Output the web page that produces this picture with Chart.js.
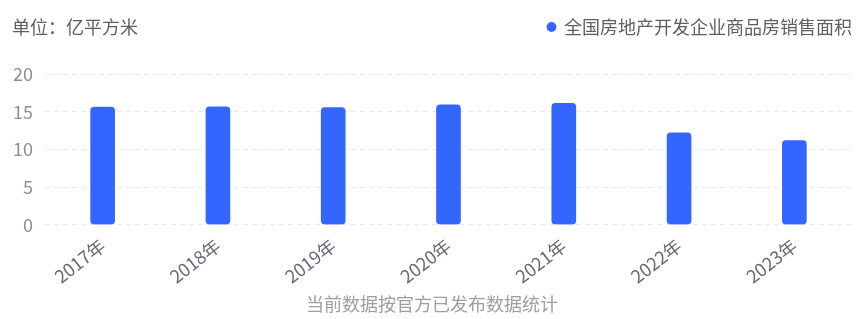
<!DOCTYPE html>
<html>
<head>
<meta charset="utf-8">
<script src="https://cdn.jsdelivr.net/npm/chart.js@4/dist/chart.umd.min.js"></script>
<style>
  html, body { margin: 0; padding: 0; background: #ffffff; }
  #wrap { width: 865px; height: 319px; position: relative; }
</style>
</head>
<body>
<div id="wrap"><canvas id="c"></canvas></div>
<script>
// 全国房地产开发企业商品房销售面积（亿平方米）
const years = ['2017年', '2018年', '2019年', '2020年', '2021年', '2022年', '2023年'];
const salesArea = [15.6, 15.65, 15.55, 15.9, 16.1, 12.2, 11.15];
const yTicks = [0, 5, 10, 15, 20];
const seriesName = '全国房地产开发企业商品房销售面积';
const unitText = '单位：亿平方米';
const footText = '当前数据按官方已发布数据统计';

const FONT = '"Noto Sans CJK SC", "Noto Sans", sans-serif';

// unit caption drawn on the legend row, left side; legend gets extra room below
const unitLabel = {
  id: 'unitLabel',
  beforeInit(chart) {
    const lg = chart.legend;
    if (lg) {
      const fit = lg.fit;
      lg.fit = function () {
        fit.call(this);
        this.height += 28;
      };
    }
  },
  afterDraw(chart) {
    const lg = chart.legend;
    const y = lg.legendHitBoxes.length ? lg.legendHitBoxes[0].top + lg.legendHitBoxes[0].height / 2 : 26;
    const ctx = chart.ctx;
    ctx.save();
    ctx.font = '18px ' + FONT;
    ctx.fillStyle = '#5c5f66';
    ctx.textAlign = 'left';
    ctx.textBaseline = 'middle';
    ctx.fillText(unitText, 12, y);
    ctx.restore();
  }
};

new Chart(document.getElementById('c'), {
  type: 'bar',
  data: {
    labels: years,
    datasets: [{
      label: seriesName,
      data: salesArea,
      backgroundColor: '#3366ff',
      borderRadius: 4,
      borderSkipped: false,
      barThickness: 24
    }]
  },
  plugins: [unitLabel],
  options: {
    responsive: true,
    maintainAspectRatio: false,
    animation: false,
    layout: { padding: { left: 12, right: 13, top: 18, bottom: 4 } },
    plugins: {
      legend: {
        position: 'top',
        align: 'end',
        labels: {
          usePointStyle: true,
          pointStyle: 'circle',
          boxWidth: 7,
          boxHeight: 7,
          color: '#5c5f66',
          font: { family: FONT, size: 18 },
          padding: 0
        }
      },
      title: {
        display: true,
        text: footText,
        position: 'bottom',
        align: 'center',
        color: '#9a9ea8',
        font: { family: FONT, size: 18, weight: 'normal' },
        padding: { top: 4, bottom: 0 }
      },
      tooltip: { enabled: false }
    },
    scales: {
      x: {
        grid: { display: false },
        border: { display: false },
        afterFit(scale) {
          scale.paddingLeft = 0;
          scale.paddingRight = 0;
        },
        ticks: {
          color: '#666a75',
          font: { family: FONT, size: 18 },
          minRotation: 38,
          maxRotation: 38,
          padding: 2
        }
      },
      y: {
        min: 0,
        max: 20,
        afterBuildTicks(axis) {
          axis.ticks = yTicks.map(v => ({ value: v }));
        },
        afterFit(scale) {
          scale.width = 33;
        },
        grid: {
          color: '#e8e9ec',
          lineWidth: 1,
          drawTicks: false
        },
        border: { display: false, dash: [5, 4] },
        ticks: {
          color: '#8a8f99',
          font: { family: FONT, size: 18 },
          padding: 12
        }
      }
    }
  }
});
</script>
</body>
</html>
